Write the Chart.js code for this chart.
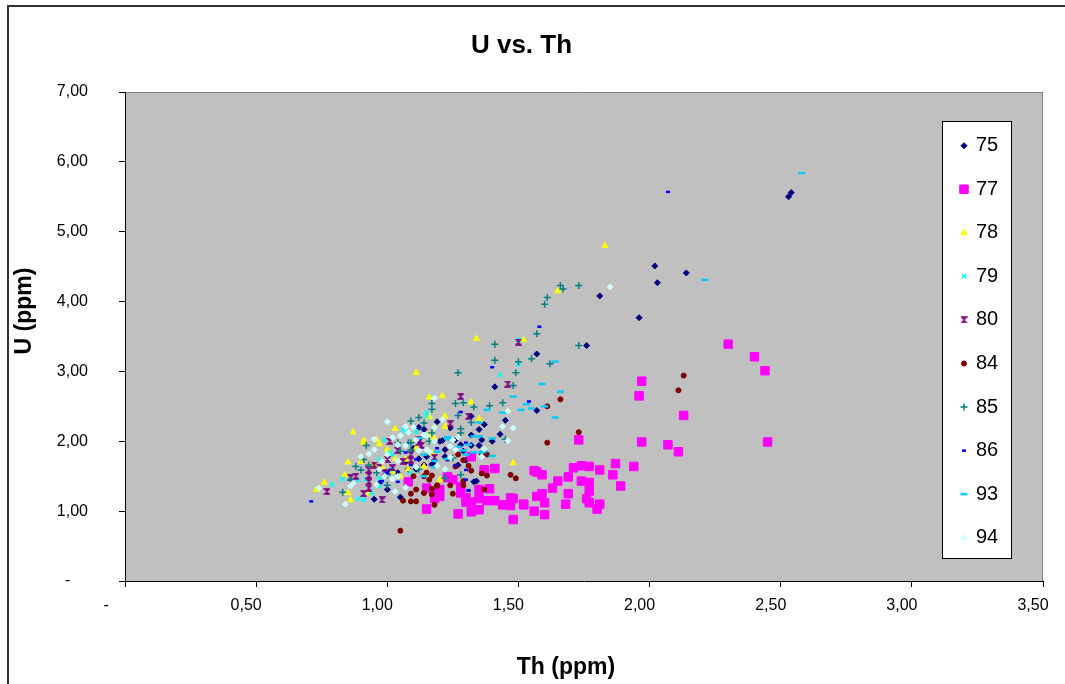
<!DOCTYPE html>
<html>
<head>
<meta charset="utf-8">
<script src="https://cdn.jsdelivr.net/npm/chart.js"></script>
<style>
  body { margin: 0; background: #fff; }
  #wrap { width: 1065px; height: 684px; }
</style>
</head>
<body>
<div id="wrap"><canvas id="uth" width="1065" height="684"></canvas></div>
<script>
// [Th, U] pairs (ppm), one list per sample series
const s75 = [[2.54,5.56],[2.53,5.50],[2.02,4.51],[2.14,4.41],[2.03,4.27],[1.96,3.77],[1.81,4.08],[1.76,3.37],
  [1.57,3.25],[1.41,2.78],[1.57,2.44],[1.45,2.30],[1.32,2.36],[1.37,2.24],[1.19,2.28],[1.43,2.10],[1.40,2.00],
  [1.36,2.02],[1.35,2.17],[1.32,1.94],[1.24,2.19],[1.21,2.01],[1.14,2.17],[1.12,2.20],[1.17,1.67],[1.34,1.43],
  [1.35,1.94],[1.29,1.86],[1.32,2.09],[1.26,2.02],[1.20,2.00],[1.12,1.75],[1.15,1.78],[1.14,1.66],[1.18,1.66],
  [1.07,1.71],[1.11,1.60],[1.08,1.60],[1.33,1.42],[1.00,1.31],[1.05,1.20],[0.95,1.17],[1.32,1.76],[1.27,1.66],
  [1.30,1.73],[1.28,1.95],[1.22,1.78],[1.01,1.57],[1.22,1.88],[1.10,1.90],[1.04,1.55],[0.97,1.40]];
const s77 = [[2.30,3.39],[2.40,3.21],[2.44,3.01],[2.45,1.99],[2.13,2.37],[1.97,2.86],[1.96,2.65],[1.73,2.02],
  [1.97,1.99],[2.07,1.95],[2.11,1.85],[1.87,1.68],[1.94,1.64],[1.74,1.65],[1.71,1.62],[1.77,1.64],[1.81,1.59],
  [1.86,1.52],[1.89,1.36],[1.69,1.49],[1.65,1.43],[1.74,1.43],[1.77,1.41],[1.63,1.33],[1.69,1.25],[1.77,1.29],
  [1.76,1.18],[1.77,1.12],[1.81,1.10],[1.80,1.03],[1.68,1.10],[1.57,1.56],[1.59,1.52],[1.59,1.25],[1.57,1.21],
  [1.60,1.12],[1.56,1.00],[1.60,0.95],[1.48,1.18],[1.52,1.10],[1.48,0.88],[1.47,1.08],[1.44,1.09],[1.41,1.61],
  [1.37,1.58],[1.39,1.32],[1.41,1.15],[1.38,1.15],[1.35,1.31],[1.35,1.18],[1.35,1.02],[1.32,0.99],[1.27,0.96],
  [1.32,1.13],[1.30,1.13],[1.28,1.26],[1.28,1.35],[1.25,1.45],[1.23,1.49],[1.32,1.78],[1.20,1.31],[1.20,1.21],
  [1.18,1.18],[1.15,1.03],[1.15,1.33],[1.08,1.42],[1.56,1.58],[1.52,1.09],[1.47,1.19],[1.23,1.48],[1.19,1.26],
  [1.37,1.59],[1.30,1.19]];
const s78 = [[1.83,4.80],[1.65,4.15],[1.34,3.47],[1.52,3.45],[1.11,2.98],[1.16,2.63],[1.21,2.65],[1.32,2.56],
  [1.22,2.36],[1.16,2.35],[1.35,2.32],[1.48,1.69],[1.22,2.21],[1.14,1.64],[1.18,2.04],[1.20,1.45],[1.16,1.50],
  [1.03,2.18],[0.87,2.13],[0.91,1.98],[0.97,1.96],[0.96,2.02],[0.85,1.70],[0.76,1.41],[0.73,1.31],[0.84,1.52],
  [0.85,1.26],[0.86,1.16],[0.93,1.26],[0.94,1.65],[0.90,1.71],[0.96,1.64],[0.98,1.63],[1.03,1.75],[1.07,1.74],
  [1.02,1.57],[1.05,1.50],[1.08,1.60],[1.17,1.83],[1.11,1.90],[1.16,2.09],[1.00,1.88],[0.91,2.01]];
const s79 = [[1.43,2.95],[1.50,3.10],[1.50,3.45],[1.15,2.41],[1.15,2.36],[1.07,2.14],[0.99,2.02],[1.01,1.84],
  [0.97,1.74],[0.97,1.63],[1.02,1.60],[0.97,1.47],[0.92,1.45],[0.83,1.46],[0.79,1.38],[0.89,1.18],[0.91,1.16],
  [0.97,1.36],[0.94,1.26],[1.11,2.14],[1.02,1.81],[1.09,1.55],[0.89,1.45],[1.06,2.17]];
const s80 = [[1.50,3.42],[1.46,2.82],[1.28,2.64],[1.31,2.36],[1.24,2.25],[1.18,1.77],[1.12,2.02],[1.13,1.94],
  [1.12,1.98],[1.01,2.00],[1.09,1.73],[1.06,1.71],[1.00,1.74],[1.02,1.62],[0.93,1.59],[0.93,1.51],[0.99,1.55],
  [0.86,1.48],[0.88,1.50],[0.77,1.28],[0.93,1.33],[0.91,1.25],[0.98,1.16],[0.93,1.42],[0.97,1.63],[1.04,1.87],
  [1.09,1.81],[0.95,1.66]];
const s84 = [[2.13,2.94],[2.11,2.73],[1.66,2.60],[1.61,2.50],[1.73,2.13],[1.61,1.98],[1.47,1.52],[1.49,1.47],
  [1.36,1.54],[1.38,1.51],[1.37,1.31],[1.31,1.65],[1.32,1.58],[1.29,1.73],[1.27,1.81],[1.26,1.64],[1.38,1.81],
  [1.29,1.43],[1.29,1.37],[1.25,1.25],[1.19,1.37],[1.17,1.51],[1.16,1.45],[1.17,1.32],[1.17,1.24],[1.14,1.26],
  [1.18,1.09],[1.05,0.72],[1.10,1.50],[1.11,1.31],[1.09,1.25],[1.06,1.15],[1.09,1.14],[1.11,1.14],[1.19,1.36],
  [1.24,1.37],[1.36,1.82],[1.15,1.55],[1.14,1.50]];
const s85 = [[1.66,4.23],[1.67,4.18],[1.73,4.23],[1.61,4.06],[1.60,3.96],[1.57,3.54],[1.73,3.37],[1.41,3.39],
  [1.41,3.16],[1.50,3.14],[1.55,3.18],[1.62,3.11],[1.27,2.98],[1.49,2.98],[1.48,2.80],[1.39,2.51],[1.44,2.55],
  [1.26,2.54],[1.29,2.55],[1.17,2.54],[1.17,2.46],[1.27,2.37],[1.33,2.49],[1.12,2.34],[1.09,2.29],[1.14,2.26],
  [1.28,2.18],[1.32,2.27],[1.45,2.03],[1.28,2.12],[1.25,1.76],[1.09,1.98],[1.08,1.98],[1.16,2.00],[1.17,2.12],
  [0.92,1.94],[0.93,1.66],[0.88,1.64],[0.90,1.59],[0.83,1.27],[0.86,1.45],[1.04,1.98],[0.91,1.74],[1.00,1.52],
  [0.96,1.55],[1.05,1.86],[1.04,1.95],[1.28,1.52],[1.22,1.47],[1.09,1.88],[1.12,1.60],[1.00,1.37]];
const s86 = [[2.07,5.57],[1.58,3.64],[1.40,3.06],[1.54,2.57],[1.28,2.42],[1.30,1.59],[1.31,1.30],[0.71,1.14],
  [1.30,1.45],[1.31,1.29],[1.14,1.50],[1.09,1.66],[1.07,1.84],[1.04,1.42],[1.19,1.90],[1.23,1.73],[1.26,1.65],
  [1.27,2.07],[1.30,1.98],[1.11,1.74],[0.98,1.43],[1.00,1.55],[0.97,1.40]];
const s93 = [[2.58,5.84],[2.21,4.31],[1.64,3.14],[1.59,2.82],[1.66,2.71],[1.48,2.64],[1.53,2.53],[1.51,2.45],
  [1.55,2.47],[1.60,2.50],[1.64,2.34],[1.38,2.45],[1.44,2.41],[1.35,2.27],[1.40,2.04],[1.33,2.07],[1.35,2.07],
  [1.31,1.95],[1.40,1.79],[1.36,1.84],[1.33,1.84],[1.27,1.92],[1.23,2.06],[1.30,1.81],[1.23,1.75],[1.19,1.85],
  [1.14,1.81],[1.37,1.86],[1.29,1.87],[1.13,2.05],[1.18,1.63],[1.14,1.50],[1.18,1.72],[1.23,2.03]];
const s94 = [[1.85,4.21],[1.18,2.62],[1.46,2.43],[1.44,2.21],[1.48,2.19],[1.07,2.21],[1.10,2.20],[1.21,2.31],
  [1.18,2.20],[1.14,2.09],[1.25,2.02],[1.27,2.06],[1.24,1.93],[1.26,1.88],[1.15,1.88],[1.37,1.89],[1.24,1.77],
  [1.19,1.65],[1.22,1.60],[1.36,1.78],[1.00,2.28],[0.95,2.03],[1.18,2.00],[1.02,2.05],[1.05,2.08],[1.08,2.13],
  [1.04,1.95],[1.11,2.02],[1.07,1.94],[0.95,1.88],[1.00,1.81],[0.90,1.78],[0.93,1.82],[1.04,1.72],[0.98,1.71],
  [1.02,1.46],[0.97,1.60],[0.99,1.50],[1.04,1.50],[0.96,1.38],[1.03,1.28],[1.07,1.34],[0.84,1.10],[0.87,1.40],
  [0.86,1.36],[0.74,1.33],[1.11,1.63],[1.16,1.85],[1.12,1.87],[1.15,2.08],[1.46,2.01]];

const seriesNames = ['75', '77', '78', '79', '80', '84', '85', '86', '93', '94'];
const seriesData = [s75, s77, s78, s79, s80, s84, s85, s86, s93, s94];

// Excel's "hourglass" marker does not exist in Chart.js, so draw it once
const hourglass = document.createElement('canvas');
hourglass.width = 7; hourglass.height = 7;
const hg = hourglass.getContext('2d');
hg.fillStyle = '#800080'; hg.strokeStyle = '#800080'; hg.lineWidth = 1.2;
hg.beginPath();
hg.moveTo(0.8, 0.8); hg.lineTo(6.2, 0.8); hg.lineTo(0.8, 6.2); hg.lineTo(6.2, 6.2); hg.closePath();
hg.fill(); hg.stroke();

const markers = [
  { style: 'rectRot', r: 3, fill: '#000080', bw: 1 },
  { style: 'rect', r: 6, fill: '#FF00FF', bw: 1 },
  { style: 'triangle', r: 3.5, fill: '#FFFF00', bw: 1 },
  { style: 'crossRot', r: 3, fill: '#00FFFF', bw: 1.5 },
  { style: hourglass, r: 3, fill: '#800080', bw: 1 },
  { style: 'circle', r: 2.5, fill: '#800000', bw: 1 },
  { style: 'cross', r: 3.5, fill: '#008080', bw: 1.5 },
  { style: 'line', r: 2, fill: '#0000FF', bw: 2.5 },
  { style: 'line', r: 3.5, fill: '#00CCFF', bw: 2.5 },
  { style: 'rectRot', r: 3, fill: '#CCFFFF', bw: 1 }
];

const fmt = v => v === 0 ? '-    ' : v.toFixed(2).replace('.', ',');
const FONT = "'Liberation Sans', Arial, sans-serif";
Chart.defaults.font.family = FONT;
Chart.defaults.color = '#000';

// gray plot area, outer frame, axis titles
const frame = {
  id: 'frame',
  beforeDraw(chart) {
    const { ctx, chartArea: a } = chart;
    ctx.save();
    ctx.fillStyle = '#fff';
    ctx.fillRect(0, 0, chart.width, chart.height);
    ctx.strokeStyle = '#333'; ctx.lineWidth = 2;
    ctx.strokeRect(8, 6, chart.width + 20, chart.height + 20);
    ctx.fillStyle = '#C0C0C0';
    ctx.fillRect(a.left, a.top, a.right - a.left, a.bottom - a.top);
    ctx.strokeStyle = '#808080'; ctx.lineWidth = 1;
    ctx.beginPath();
    ctx.moveTo(a.left, a.top + 0.5);
    ctx.lineTo(a.right - 0.5, a.top + 0.5);
    ctx.lineTo(a.right - 0.5, a.bottom);
    ctx.stroke();
    ctx.restore();
  },
  afterDraw(chart) {
    const ctx = chart.ctx;
    ctx.save();
    ctx.fillStyle = '#000';
    ctx.font = 'bold 23px ' + FONT;
    ctx.textAlign = 'center'; ctx.textBaseline = 'middle';
    ctx.fillText('Th (ppm)', 566, 668);
    ctx.translate(25, 311);
    ctx.rotate(-Math.PI / 2);
    ctx.fillText('U (ppm)', 0, 0);
    ctx.restore();
  }
};

// boxed legend sitting inside the plot area
const boxLegend = {
  id: 'boxLegend',
  afterDatasetsDraw(chart) {
    const ctx = chart.ctx;
    ctx.save();
    ctx.fillStyle = '#fff';
    ctx.fillRect(942, 121, 69, 437);
    ctx.strokeStyle = '#000'; ctx.lineWidth = 1;
    ctx.strokeRect(942.5, 121.5, 69, 437);
    chart.data.datasets.forEach((ds, i) => {
      const y = 145.7 + i * 43.56;
      ctx.fillStyle = ds.backgroundColor;
      ctx.strokeStyle = ds.borderColor;
      ctx.lineWidth = ds.borderWidth;
      Chart.helpers.drawPoint(ctx, { pointStyle: ds.pointStyle, radius: ds.pointRadius, rotation: 0, borderWidth: ds.borderWidth }, 964, y);
      ctx.fillStyle = '#000';
      ctx.font = '20px ' + FONT;
      ctx.textAlign = 'left'; ctx.textBaseline = 'middle';
      ctx.fillText(ds.label, 976, y);
    });
    ctx.restore();
  }
};

const datasets = seriesNames.map((name, i) => ({
  label: name,
  data: seriesData[i].map(p => ({ x: p[0], y: p[1] })),
  pointStyle: markers[i].style,
  pointRadius: markers[i].r,
  backgroundColor: markers[i].fill,
  borderColor: markers[i].fill,
  borderWidth: markers[i].bw,
  order: seriesNames.length - i
}));

new Chart(document.getElementById('uth'), {
  type: 'scatter',
  data: { datasets },
  options: {
    responsive: false,
    animation: false,
    layout: { padding: { left: 0, right: 22, top: 0, bottom: 0 } },
    plugins: {
      legend: { display: false },
      tooltip: { enabled: false },
      title: {
        display: true,
        text: 'U vs. Th',
        color: '#000',
        font: { size: 26, weight: 'bold' },
        padding: { top: 30, bottom: 30.8 }
      }
    },
    scales: {
      x: {
        type: 'linear', min: 0, max: 3.5,
        afterFit: s => { s.height = 103; s.paddingLeft = 0; s.paddingRight = 0; },
        ticks: { stepSize: 0.5, callback: fmt, font: { size: 16 }, color: '#000', padding: 9, labelOffset: -10, maxRotation: 0 },
        grid: { drawOnChartArea: false, drawTicks: true, tickLength: 6, color: '#000' },
        border: { display: true, color: '#000', width: 1 }
      },
      y: {
        type: 'linear', min: 0, max: 7,
        afterFit: s => { s.width = 125; s.paddingTop = 0; s.paddingBottom = 0; },
        ticks: { stepSize: 1, callback: fmt, font: { size: 16 }, color: '#000', padding: 31 },
        grid: { drawOnChartArea: false, drawTicks: true, tickLength: 6, color: '#000' },
        border: { display: true, color: '#000', width: 1 }
      }
    }
  },
  plugins: [frame, boxLegend]
});
</script>
</body>
</html>
